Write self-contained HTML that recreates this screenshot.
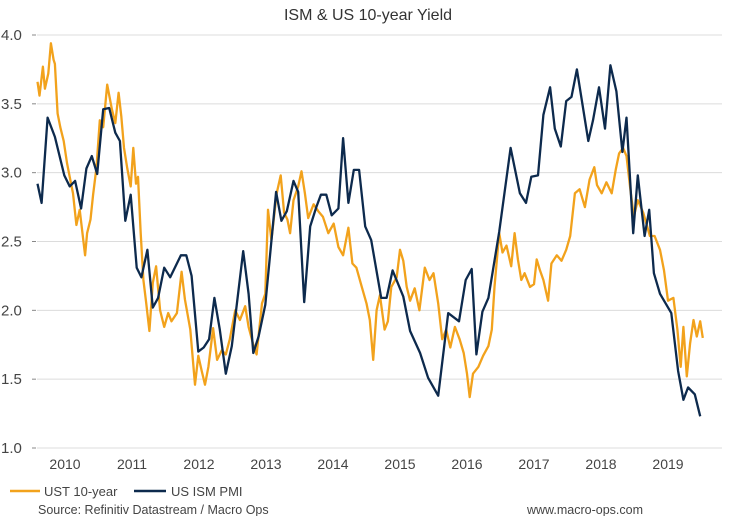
<!DOCTYPE html>
<html><head><meta charset="utf-8"><style>
body{margin:0;background:#fff;width:731px;height:516px;overflow:hidden;font-family:"Liberation Sans",sans-serif}
svg text{font-family:"Liberation Sans",sans-serif}
</style></head><body>
<svg id="chart" width="731" height="516" viewBox="0 0 731 516" xmlns="http://www.w3.org/2000/svg">
<text x="368" y="20" text-anchor="middle" font-size="16" fill="#333">ISM &amp; US 10-year Yield</text>
<g id="grid"></g><g id="yaxis"></g><g id="xaxis"></g><g id="series"></g>
<g>
<line x1="10" y1="491" x2="40" y2="491" stroke="#f2a21c" stroke-width="2.5"/>
<text x="44" y="496" font-size="13" fill="#444">UST 10-year</text>
<line x1="134" y1="491" x2="166" y2="491" stroke="#0d2a4d" stroke-width="2.5"/>
<text x="171" y="496" font-size="13" fill="#444">US ISM PMI</text>
</g>
<text x="38" y="514" font-size="12.5" fill="#444">Source: Refinitiv Datastream / Macro Ops</text>
<text x="527" y="514" font-size="12.5" fill="#444">www.macro-ops.com</text>
</svg>
<script>
const yTicks=[1.0,1.5,2.0,2.5,3.0,3.5,4.0];
const yearLabels=["2010","2011","2012","2013","2014","2015","2016","2017","2018","2019"];
const ismDates=[2010.09,2010.15,2010.24,2010.35,2010.49,2010.57,2010.65,2010.74,2010.82,2010.90,2010.98,2011.07,2011.16,2011.25,2011.32,2011.40,2011.48,2011.57,2011.64,2011.73,2011.81,2011.89,2011.98,2012.07,2012.23,2012.31,2012.39,2012.49,2012.57,2012.65,2012.73,2012.81,2012.90,2012.99,2013.16,2013.24,2013.31,2013.39,2013.49,2013.57,2013.65,2013.73,2013.81,2013.91,2013.98,2014.07,2014.16,2014.25,2014.32,2014.40,2014.48,2014.58,2014.65,2014.73,2014.81,2014.89,2014.98,2015.07,2015.22,2015.30,2015.39,2015.55,2015.65,2015.80,2015.92,2016.07,2016.22,2016.38,2016.48,2016.57,2016.64,2016.73,2016.82,2016.98,2017.15,2017.29,2017.38,2017.46,2017.56,2017.64,2017.74,2017.81,2017.90,2017.98,2018.06,2018.14,2018.31,2018.38,2018.47,2018.56,2018.64,2018.73,2018.82,2018.88,2018.98,2019.05,2019.15,2019.22,2019.29,2019.38,2019.55,2019.65,2019.73,2019.80,2019.90,2019.98];
const ismValues=[2.92,2.78,3.40,3.26,2.98,2.90,2.94,2.74,3.03,3.12,2.99,3.46,3.47,3.29,3.23,2.65,2.84,2.31,2.24,2.44,2.02,2.09,2.31,2.24,2.40,2.40,2.25,1.70,1.73,1.79,2.09,1.86,1.54,1.74,2.43,2.12,1.69,1.81,2.04,2.45,2.86,2.65,2.72,2.94,2.86,2.06,2.61,2.75,2.84,2.84,2.69,2.74,3.25,2.78,3.02,3.02,2.61,2.51,2.09,2.09,2.29,2.10,1.85,1.69,1.51,1.38,1.98,1.92,2.22,2.30,1.68,1.99,2.09,2.57,3.18,2.85,2.78,2.97,2.98,3.42,3.62,3.32,3.19,3.52,3.55,3.75,3.23,3.38,3.62,3.32,3.78,3.59,3.15,3.40,2.56,2.98,2.54,2.73,2.27,2.12,1.98,1.56,1.35,1.44,1.39,1.23];
const ustDates=[2010.09,2010.12,2010.17,2010.20,2010.25,2010.29,2010.33,2010.35,2010.39,2010.43,2010.48,2010.53,2010.57,2010.62,2010.67,2010.72,2010.80,2010.83,2010.88,2010.92,2010.97,2011.02,2011.07,2011.13,2011.20,2011.25,2011.30,2011.34,2011.38,2011.43,2011.48,2011.52,2011.56,2011.59,2011.63,2011.67,2011.71,2011.76,2011.81,2011.86,2011.92,2011.98,2012.04,2012.09,2012.17,2012.24,2012.29,2012.37,2012.44,2012.49,2012.54,2012.59,2012.64,2012.71,2012.77,2012.84,2012.90,2012.96,2013.04,2013.11,2013.19,2013.24,2013.31,2013.36,2013.44,2013.49,2013.53,2013.58,2013.66,2013.72,2013.77,2013.82,2013.86,2013.91,2013.98,2014.03,2014.08,2014.13,2014.21,2014.28,2014.35,2014.43,2014.51,2014.58,2014.65,2014.73,2014.79,2014.85,2014.93,2015.00,2015.05,2015.10,2015.15,2015.20,2015.27,2015.32,2015.37,2015.45,2015.50,2015.55,2015.60,2015.65,2015.72,2015.79,2015.87,2015.94,2016.00,2016.07,2016.13,2016.19,2016.25,2016.32,2016.39,2016.45,2016.50,2016.54,2016.59,2016.67,2016.74,2016.82,2016.87,2016.91,2016.98,2017.03,2017.09,2017.16,2017.21,2017.26,2017.31,2017.36,2017.44,2017.50,2017.54,2017.59,2017.64,2017.71,2017.76,2017.84,2017.91,2017.98,2018.04,2018.11,2018.18,2018.26,2018.33,2018.40,2018.44,2018.51,2018.58,2018.66,2018.72,2018.77,2018.83,2018.88,2018.94,2018.99,2019.05,2019.13,2019.23,2019.30,2019.38,2019.44,2019.50,2019.58,2019.64,2019.69,2019.73,2019.78,2019.83,2019.88,2019.93,2019.98,2020.02];
const ustValues=[3.66,3.56,3.77,3.61,3.72,3.94,3.82,3.79,3.43,3.33,3.23,3.07,2.97,2.85,2.62,2.73,2.40,2.56,2.66,2.84,3.04,3.38,3.33,3.64,3.46,3.36,3.58,3.41,3.18,3.03,2.90,3.18,2.92,2.97,2.56,2.22,2.06,1.85,2.20,2.32,2.00,1.88,1.98,1.92,1.98,2.28,2.08,1.86,1.46,1.67,1.56,1.46,1.59,1.87,1.64,1.71,1.68,1.79,2.00,1.93,2.03,1.88,1.75,1.68,2.05,2.12,2.73,2.51,2.85,2.98,2.71,2.66,2.56,2.80,2.90,3.01,2.85,2.67,2.77,2.72,2.68,2.56,2.63,2.46,2.40,2.60,2.34,2.31,2.17,2.05,1.93,1.64,2.00,2.11,1.86,1.92,2.17,2.24,2.44,2.36,2.17,2.07,2.16,2.00,2.31,2.22,2.27,2.05,1.79,1.86,1.73,1.88,1.79,1.69,1.54,1.37,1.54,1.59,1.67,1.74,1.86,2.17,2.56,2.42,2.47,2.32,2.56,2.37,2.22,2.27,2.17,2.19,2.37,2.29,2.22,2.07,2.34,2.40,2.36,2.44,2.54,2.85,2.88,2.75,2.95,3.04,2.91,2.85,2.93,2.85,3.02,3.14,3.18,3.12,2.87,2.68,2.80,2.71,2.54,2.54,2.44,2.29,2.07,2.09,1.86,1.59,1.88,1.52,1.76,1.93,1.81,1.92,1.80];

const NS='http://www.w3.org/2000/svg';
const X=t=>65+(t-2010.5)*67;
const Y=v=>448-(v-1)*137.67;
function mk(tag,attrs,parent){const e=document.createElementNS(NS,tag);for(const k in attrs)e.setAttribute(k,attrs[k]);parent.appendChild(e);return e;}
const grid=document.getElementById('grid'),ya=document.getElementById('yaxis'),xa=document.getElementById('xaxis'),sg=document.getElementById('series');
yTicks.forEach(v=>{
  const g=mk('line',{x1:37,x2:722,y1:Y(v),y2:Y(v),stroke:'#dcdcdc','stroke-width':1},grid);
  
  
  const tk=mk('line',{x1:32,x2:36,y1:Y(v),y2:Y(v),stroke:'#888','stroke-width':1},ya);
  
  
  const t=mk('text',{x:1,y:Y(v)+5,'font-size':15,fill:'#444'},ya);
  t.textContent=v.toFixed(1);
  
  
});
yearLabels.forEach(l=>{
  const t=mk('text',{x:X(+l+0.5),y:469,'font-size':14,fill:'#444','text-anchor':'middle'},xa);
  t.textContent=l;
  
  
});
function line(dates,vals,color,name){
  const d=dates.map((t,i)=>(i?'L':'M')+X(t).toFixed(1)+','+Y(vals[i]).toFixed(1)).join('');
  const p=mk('path',{d:d,fill:'none',stroke:color,'stroke-width':2.3,'stroke-linejoin':'round'},sg);
  
  
}
line(ustDates,ustValues,'#f2a21c','ust-10-year-line');
line(ismDates,ismValues,'#0d2a4d','us-ism-pmi-line');
</script>
</body></html>
